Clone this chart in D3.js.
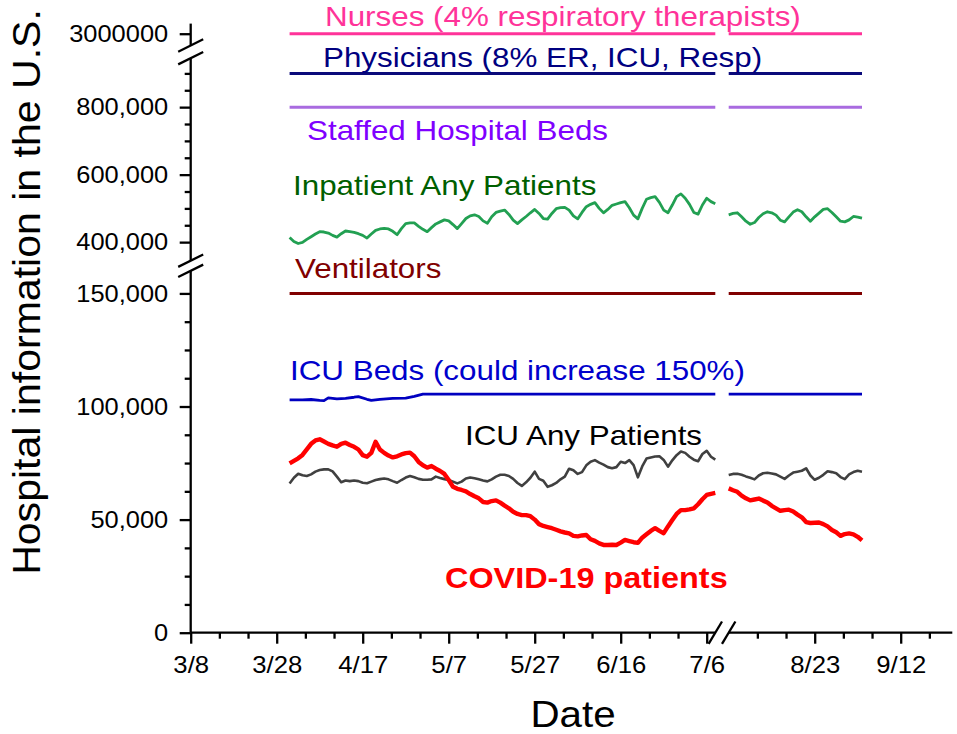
<!DOCTYPE html>
<html>
<head>
<meta charset="utf-8">
<script src="https://cdnjs.cloudflare.com/ajax/libs/d3/7.8.5/d3.min.js"></script>
<style>
  body { margin: 0; background: #ffffff; }
  text { font-family: Arial, "Liberation Sans", sans-serif; }
</style>
</head>
<body>
<div id="graph"></div>
<script>
// daily series, two runs of days either side of the x axis break
var partStarts = ["2020-03-31", "2020-08-03"];

var covidPart1 = [
  74900, 76000, 77100, 78600, 81000, 83500, 85000, 85500, 84500, 83500,
  82800, 82200, 83500, 84000, 83000, 82200, 81000, 78500, 77800, 79500,
  84400, 81000, 79500, 78300, 77500, 78000, 78800, 79400, 79600, 78000,
  75500, 74000, 73000, 73700, 72500, 71500, 70200, 67500, 64500, 63600,
  63100, 62500, 61300, 60300, 59400, 57800, 57500, 58200, 58500, 57500,
  56200, 55000, 53500, 52500, 52000, 52000, 51500, 50000, 48000, 47200,
  46700, 46200, 45500, 44800, 44300, 43900, 42800, 42600, 43000, 43200,
  41300, 40600, 39500, 38800, 38800, 38900, 38800, 39800, 41000, 40500,
  40000, 39700, 42000, 43500, 45000, 46200, 45000, 44000, 47000, 49800,
  52500, 54200, 54200, 54500, 55000, 56800, 59000, 60900, 61400, 61800
];
var covidPart2 = [
  63800, 63000, 62300, 60600, 59400, 58500, 58900, 59300, 58400, 57600,
  56100, 55000, 53900, 54200, 54400, 53600, 52200, 51000, 48900, 48500,
  48600, 48700, 48000, 47000, 45400, 44400, 42800, 43600, 43900, 43500,
  42400, 40800
];

var icuPatientsPart1 = [
  66000, 68500, 70300, 69600, 69300, 70000, 71200, 71900, 72200, 72200,
  71300, 69000, 66500, 67300, 67000, 67300, 67000, 66300, 66100, 66800,
  67500, 67900, 68200, 67800, 67000, 66300, 67500, 68600, 69300, 68700,
  68000, 67600, 67600, 67800, 69000, 68400, 67900, 67500, 66800, 66000,
  66800, 68200, 68600, 68300, 67800, 67300, 66900, 67800, 69000, 69800,
  69800, 69300, 68000, 66200, 64900, 66500, 68500, 71200, 68000, 67200,
  64500, 65200, 66200, 67800, 69000, 72500, 71800, 70200, 71000, 74000,
  75600, 76300, 75200, 74300, 73200, 72700, 73200, 75600, 75000, 76300,
  74100, 68700, 73500, 77000, 77500, 77900, 78000, 76400, 73400, 76200,
  78500, 80100, 79500, 77800, 76500, 75800, 79000, 80400, 77800, 76500
];
var icuPatientsPart2 = [
  69700, 70200, 70300, 69800, 69100, 68500, 67800, 69500, 70500, 70700,
  70400, 70000, 69000, 68000, 69500, 70800, 71200, 71600, 72700, 69500,
  67600, 68500, 69800, 71400, 71000, 70500, 68800, 67900, 70000, 71000,
  71600, 71200
];

var inpatientPart1 = [
  414000, 402000, 396000, 399000, 408000, 416000, 424000, 431000, 430000, 427000,
  420000, 415000, 425000, 433000, 431000, 429000, 425000, 420000, 412000, 424000,
  435000, 439000, 441000, 439000, 432000, 422000, 440000, 455000, 457000, 457000,
  447000, 438000, 431000, 443000, 454000, 460000, 466000, 463000, 452000, 440000,
  455000, 470000, 478000, 481000, 476000, 463000, 456000, 475000, 488000, 492000,
  495000, 482000, 465000, 455000, 466000, 476000, 487000, 497000, 485000, 470000,
  468000, 485000, 499000, 502000, 503000, 495000, 478000, 469000, 488000, 505000,
  512000, 517000, 500000, 487000, 497000, 509000, 513000, 517000, 520000, 502000,
  480000, 469000, 500000, 527000, 532000, 535000, 518000, 495000, 487000, 510000,
  535000, 543000, 530000, 512000, 488000, 483000, 510000, 530000, 520000, 514000
];
var inpatientPart2 = [
  481000, 485000, 487000, 475000, 462000, 453000, 458000, 473000, 484000, 490000,
  487000, 480000, 465000, 460000, 475000, 489000, 496000, 490000, 475000, 462000,
  475000, 486000, 497000, 499000, 488000, 475000, 462000, 460000, 466000, 476000,
  474000, 471000
];

// icu beds: read at the turning points, flat after May 1
var icuBedDates1 = ["2020-03-31", "2020-04-03", "2020-04-05", "2020-04-07", "2020-04-08",
  "2020-04-09", "2020-04-11", "2020-04-13", "2020-04-15", "2020-04-16", "2020-04-18",
  "2020-04-19", "2020-04-21", "2020-04-24", "2020-04-27", "2020-04-29", "2020-05-01", "2020-07-08"];
var icuBedValues1 = [102900, 102900, 103100, 102700, 102600, 103800, 103400, 103600, 104100,
  104400, 103200, 102700, 103200, 103600, 103700, 104500, 105500, 105500];
var icuBedDates2 = ["2020-08-03", "2020-09-03"];
var icuBedValues2 = [105500, 105500];

// capacity reference lines
var capacityNames = ["Nurses", "Physicians", "Staffed Hospital Beds", "Ventilators"];
var capacityValues = [3000000, 900000, 800000, 150000];
var capacityColors = ["#FF3399", "#0A0A7A", "#A96BE0", "#800000"];
var capacitySpans = [["2020-03-31", "2020-07-08"], ["2020-08-03", "2020-09-03"]];

// tick values and labels
var xMajorTicks = ["2020-03-08", "2020-03-28", "2020-04-17", "2020-05-07", "2020-05-27",
  "2020-06-16", "2020-07-06", "2020-08-23", "2020-09-12"];
var xTickLabels = ["3/8", "3/28", "4/17", "5/7", "5/27", "6/16", "7/6", "8/23", "9/12"];
var yMajorTicks = [0, 50000, 100000, 150000, 400000, 600000, 800000, 3000000];
var yTickLabels = ["0", "50,000", "100,000", "150,000", "400,000", "600,000", "800,000", "3000000"];
var yMinorTicks = [12500, 25000, 37500, 62500, 75000, 87500, 112500, 125000, 137500,
  450000, 500000, 550000, 650000, 700000, 750000, 850000, 900000];

// series labels
var labelTexts = ["Nurses (4% respiratory therapists)", "Physicians (8% ER, ICU, Resp)",
  "Staffed Hospital Beds", "Inpatient Any Patients", "Ventilators",
  "ICU Beds (could increase 150%)", "ICU Any Patients", "COVID-19 patients"];
var labelColors = ["#FF3399", "#000080", "#7F00FF", "#005F00", "#800000", "#0000CC", "#000000", "#FF0000"];
var labelX = [325, 323, 307, 293, 295, 290, 465, 445];
var labelY = [26, 67, 140, 195, 278, 380, 445, 588];


var parseDate = d3.utcParse("%Y-%m-%d");

// broken x axis: same days-per-pixel on both sides of the gap
var xDomain = [parseDate("2020-03-08"), parseDate("2020-07-08"), parseDate("2020-08-03"), parseDate("2020-09-24")];
var pxPerDay = 4.3;
var xLeft = 190.7;
var xGap = 13.4;
var xBreak1 = xLeft + d3.utcDay.count(xDomain[0], xDomain[1]) * pxPerDay;
var xBreak2 = xBreak1 + xGap;
var xRight = xBreak2 + d3.utcDay.count(xDomain[2], xDomain[3]) * pxPerDay;
var graphX = d3.scaleUtc().domain(xDomain).range([xLeft, xBreak1, xBreak2, xRight]);

// broken y axis: three pieces
var yPieces = [[0, 160000], [345000, 945000], [2965000, 3030000]];
var yPieceRanges = [[632.7, 270.8], [260.7, 58.2], [45.5, 23.6]];
var graphY = d3.scaleLinear()
  .domain(d3.merge(yPieces))
  .range(d3.merge(yPieceRanges));
var xAxisY = graphY(0);

function dailySeries(start, values) {
  var first = parseDate(start);
  return values.map(function(v, i) { return {date: d3.utcDay.offset(first, i), value: v}; });
}
function pointSeries(dates, values) {
  return dates.map(function(t, i) { return {date: parseDate(t), value: values[i]}; });
}

// stretch text a little wider, the source font runs wide
function widen(sel, factor) {
  sel.each(function() {
    var len = this.getComputedTextLength();
    d3.select(this).attr("textLength", len * factor).attr("lengthAdjust", "spacingAndGlyphs");
  });
}

var valueLine = d3.line()
  .x(function(d) { return graphX(d.date); })
  .y(function(d) { return graphY(d.value); });

var svg = d3.select("#graph")
  .append("svg")
  .attr("width", 957)
  .attr("height", 734);

// capacity lines
capacityValues.forEach(function(v, i) {
  capacitySpans.forEach(function(span) {
    svg.append("path")
      .datum(pointSeries(span, [v, v]))
      .attr("fill", "none")
      .attr("stroke", capacityColors[i])
      .attr("stroke-width", 3)
      .attr("d", valueLine);
  });
});

// icu beds
[pointSeries(icuBedDates1, icuBedValues1), pointSeries(icuBedDates2, icuBedValues2)].forEach(function(part) {
  svg.append("path")
    .datum(part)
    .attr("fill", "none")
    .attr("stroke", "#0000C0")
    .attr("stroke-width", 2.8)
    .attr("stroke-linejoin", "round")
    .attr("d", valueLine);
});

// inpatient, icu patients and covid patients
var seriesParts = [
  {parts: [inpatientPart1, inpatientPart2], color: "#22A052", width: 2.8},
  {parts: [icuPatientsPart1, icuPatientsPart2], color: "#404040", width: 2.6},
  {parts: [covidPart1, covidPart2], color: "#FF0000", width: 4.4}
];
seriesParts.forEach(function(s) {
  s.parts.forEach(function(values, k) {
    svg.append("path")
      .datum(dailySeries(partStarts[k], values))
      .attr("fill", "none")
      .attr("stroke", s.color)
      .attr("stroke-width", s.width)
      .attr("stroke-linejoin", "round")
      .attr("d", valueLine);
  });
});

// x axis ticks (minor ticks at thirds of the 20 day step)
var xMajorDates = xMajorTicks.map(parseDate);
var xMinorDates = [];
xMajorDates.forEach(function(m) {
  [-2, -1, 1, 2].forEach(function(k) {
    var t = new Date(+m + k * 20 / 3 * 864e5);
    var inside = (t > xDomain[0] && t < xDomain[1]) || (t > xDomain[2] && t < xDomain[3]);
    var taken = xMinorDates.some(function(o) { return Math.abs(o - t) < 864e5; });
    if (inside && !taken) xMinorDates.push(t);
  });
});

var tickFont = "Arial, 'Liberation Sans', sans-serif";

var xAxisG = svg.append("g")
  .attr("transform", "translate(0," + xAxisY + ")")
  .call(d3.axisBottom(graphX)
    .tickValues(xMajorDates)
    .tickSize(11)
    .tickPadding(12.3)
    .tickFormat(function(d, i) { return xTickLabels[i]; }));
xAxisG.attr("font-size", 24).attr("font-family", tickFont);
xAxisG.select(".domain").remove();
xAxisG.selectAll("line").attr("stroke-width", 2.3);
xAxisG.selectAll("text").attr("fill", "#000");

var xMinorG = svg.append("g")
  .attr("transform", "translate(0," + xAxisY + ")")
  .call(d3.axisBottom(graphX).tickValues(xMinorDates).tickSize(6).tickFormat(""));
xMinorG.select(".domain").remove();
xMinorG.selectAll("line").attr("stroke-width", 2.3);

// y axis ticks
var yAxisG = svg.append("g")
  .attr("transform", "translate(" + xLeft + ",0)")
  .call(d3.axisLeft(graphY)
    .tickValues(yMajorTicks)
    .tickSize(11)
    .tickPadding(11.5)
    .tickFormat(function(d, i) { return yTickLabels[i]; }));
yAxisG.attr("font-size", 24).attr("font-family", tickFont);
yAxisG.select(".domain").remove();
yAxisG.selectAll("line").attr("stroke-width", 2.3);
yAxisG.selectAll("text").attr("fill", "#000");

var yMinorG = svg.append("g")
  .attr("transform", "translate(" + xLeft + ",0)")
  .call(d3.axisLeft(graphY).tickValues(yMinorTicks).tickSize(6).tickFormat(""));
yMinorG.select(".domain").remove();
yMinorG.selectAll("line").attr("stroke-width", 2.3);

widen(xAxisG.selectAll("text"), 1.07);
widen(yAxisG.selectAll("text"), 1.06);

// axis lines, one piece per unbroken stretch
var axisG = svg.append("g")
  .attr("stroke", "#000")
  .attr("stroke-width", 2.3);

yPieces.forEach(function(p) {
  axisG.append("line")
    .attr("x1", xLeft).attr("x2", xLeft)
    .attr("y1", graphY(p[0])).attr("y2", graphY(p[1]));
});
[[xDomain[0], xDomain[1]], [xDomain[2], xDomain[3]]].forEach(function(p) {
  axisG.append("line")
    .attr("x1", graphX(p[0])).attr("x2", graphX(p[1]))
    .attr("y1", xAxisY).attr("y2", xAxisY);
});

// break marks
var yBreakEnds = [graphY(yPieces[0][1]), graphY(yPieces[1][0]), graphY(yPieces[1][1]), graphY(yPieces[2][0])];
yBreakEnds.forEach(function(yy) {
  axisG.append("line")
    .attr("x1", xLeft - 12.5).attr("y1", yy + 6.2)
    .attr("x2", xLeft + 12.5).attr("y2", yy - 6.2);
});
[xBreak1, xBreak2].forEach(function(xx) {
  axisG.append("line")
    .attr("x1", xx - 6.7).attr("y1", xAxisY + 11.2)
    .attr("x2", xx + 6.7).attr("y2", xAxisY - 11.2);
});

// series labels
labelTexts.forEach(function(t, i) {
  var bold = t === "COVID-19 patients";
  var label = svg.append("text")
    .attr("x", labelX[i])
    .attr("y", labelY[i])
    .attr("fill", labelColors[i])
    .style("font-size", bold ? "30px" : "28px")
    .style("font-weight", bold ? "bold" : "normal")
    .text(t);
  widen(label, bold ? 1.08 : 1.12);
});

// axis titles
var xTitle = svg.append("text")
  .attr("x", 573)
  .attr("y", 727)
  .attr("text-anchor", "middle")
  .style("font-size", "37px")
  .text("Date");
widen(xTitle, 1.09);

var yTitle = svg.append("text")
  .attr("transform", "translate(40,292)rotate(-90)")
  .attr("text-anchor", "middle")
  .style("font-size", "38px")
  .text("Hospital information in the U.S.");
widen(yTitle, 1.08);
</script>
</body>
</html>
